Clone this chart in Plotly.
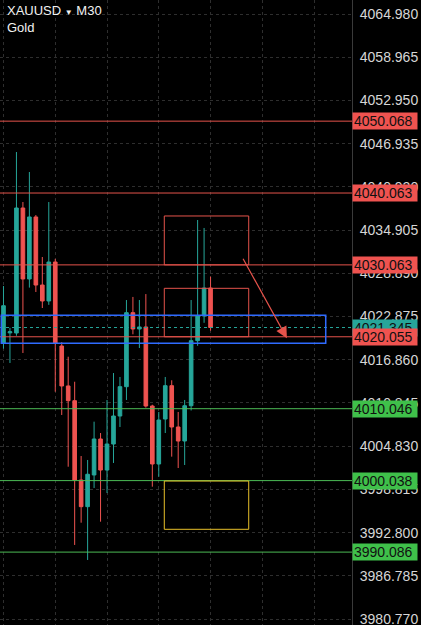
import plotly.graph_objects as go

# ---- data ----
candle_idx = list(range(33))
open_ = [4019.19, 4020.60, 4020.58, 4037.98, 4028.10, 4036.73, 4027.26, 4025.04, 4030.46, 4018.77,
         4013.21, 4011.16, 4000.12, 3996.41, 4000.82, 4005.83, 4001.51, 4005.13, 4009.03, 4013.11,
         4023.41, 4021.14, 4021.42, 4010.42, 4002.35, 4008.61, 4013.25, 4007.50, 4005.55, 4010.46,
         4019.51, 4022.95, 4026.84]
high = [4027.12, 4021.30, 4045.77, 4038.81, 4042.99, 4037.00, 4031.16, 4038.81, 4030.90, 4019.30,
        4017.28, 4013.80, 4003.46, 4002.91, 4008.24, 4006.66, 4011.26, 4015.01, 4014.46, 4025.17,
        4025.60, 4025.17, 4026.00, 4010.60, 4009.59, 4014.46, 4014.00, 4009.59, 4011.26, 4025.17,
        4036.31, 4035.20, 4028.42]
low = [4018.40, 4016.41, 4020.20, 4017.80, 4026.90, 4026.29, 4024.06, 4024.50, 4012.41, 4009.17,
       4001.97, 3991.08, 3994.18, 3988.99, 3999.01, 3994.32, 3998.31, 4002.49, 4007.50, 4011.26,
       4020.40, 4018.49, 4010.20, 3999.19, 4000.58, 4006.66, 4003.37, 4001.79, 4002.21, 4009.80,
       4018.80, 4022.00, 4020.90]
close = [4024.38, 4020.75, 4037.98, 4028.10, 4036.73, 4027.26, 4025.04, 4030.46, 4019.19, 4013.21,
         4011.16, 4000.12, 3996.41, 4000.92, 4005.83, 4001.51, 4005.13, 4009.03, 4013.11, 4023.41,
         4021.14, 4021.42, 4010.42, 4002.35, 4008.47, 4013.25, 4007.50, 4005.55, 4010.46, 4019.51,
         4022.95, 4026.84, 4021.345]

tick_labels = ["4064.980", "4058.965", "4052.950", "4046.935", "4040.920", "4034.905", "4028.890",
               "4022.875", "4016.860", "4010.845", "4004.830", "3998.815", "3992.800", "3986.785",
               "3980.770"]
resistance_levels = [4050.068, 4040.063, 4030.063, 4020.055]
support_levels = [4010.046, 4000.038, 3990.086]
current_price = 4021.345

# zones: (x0, x1, y0, y1) in candle index / price
red_zones = [(24.85, 37.9, 4030.063, 4036.87), (24.85, 37.9, 4020.055, 4026.80)]
blue_zone = (-0.34, 49.8, 4019.15, 4023.04)
yellow_zone = (24.85, 37.9, 3993.26, 3999.98)
arrow_start = (36.9, 4031.12)
arrow_end = (43.8, 4019.85)

# ---- styles ----
TEAL = "#26a69a"
RED = "#ef5350"
LINE_RED = "#e5534b"
GREEN = "#4cbb55"
TAG_GREEN = "#3fc04a"
BLUE = "#2f6bff"
YELLOW = "#e8c02a"
GRID = "#2e2e2e"
FONT = "Liberation Sans, Arial, sans-serif"

fig = go.Figure()
fig.add_trace(go.Candlestick(
    x=candle_idx, open=open_, high=high, low=low, close=close,
    increasing=dict(line=dict(color=TEAL, width=1), fillcolor=TEAL),
    decreasing=dict(line=dict(color=RED, width=1), fillcolor=RED),
    whiskerwidth=0, showlegend=False, hoverinfo="skip",
))

shapes = []
for lv in resistance_levels:
    shapes.append(dict(type="line", xref="paper", x0=0, x1=1, yref="y", y0=lv, y1=lv,
                       line=dict(color=LINE_RED, width=1)))
for lv in support_levels:
    shapes.append(dict(type="line", xref="paper", x0=0, x1=1, yref="y", y0=lv, y1=lv,
                       line=dict(color=GREEN, width=1)))
shapes.append(dict(type="line", xref="paper", x0=0, x1=1, yref="y", y0=current_price, y1=current_price,
                   line=dict(color=TEAL, width=1, dash="dot")))
for (x0, x1, y0, y1) in red_zones:
    shapes.append(dict(type="rect", xref="x", yref="y", x0=x0, x1=x1, y0=y0, y1=y1,
                       line=dict(color=LINE_RED, width=1), fillcolor="rgba(0,0,0,0)"))
x0, x1, y0, y1 = blue_zone
shapes.append(dict(type="rect", xref="x", yref="y", x0=x0, x1=x1, y0=y0, y1=y1,
                   line=dict(color=BLUE, width=1.5), fillcolor="rgba(0,0,0,0)"))
x0, x1, y0, y1 = yellow_zone
shapes.append(dict(type="rect", xref="x", yref="y", x0=x0, x1=x1, y0=y0, y1=y1,
                   line=dict(color=YELLOW, width=1), fillcolor="rgba(0,0,0,0)"))

annotations = []
def tag(value, bg):
    annotations.append(dict(
        xref="paper", x=1, xanchor="left", yref="y", y=value, yanchor="middle",
        text=f"{value:.3f}", showarrow=False, bgcolor=bg, borderpad=1, width=62, height=14,
        align="left", font=dict(family=FONT, size=14, color="#111111"),
    ))

tag(current_price, TEAL)
for lv in resistance_levels:
    tag(lv, RED)
for lv in support_levels:
    tag(lv, TAG_GREEN)

annotations.append(dict(
    x=arrow_end[0], y=arrow_end[1], xref="x", yref="y",
    ax=arrow_start[0], ay=arrow_start[1], axref="x", ayref="y",
    showarrow=True, arrowhead=2, arrowsize=1.9, arrowwidth=1.2, arrowcolor=LINE_RED, text="",
))
annotations.append(dict(
    xref="paper", yref="paper", x=0.014, y=1 - 11 / 625, xanchor="left", yanchor="middle",
    text="XAUUSD <span style='font-size:8px'>▼</span> M30", showarrow=False,
    font=dict(family=FONT, size=13, color="#f2f2f2"),
))
annotations.append(dict(
    xref="paper", yref="paper", x=0.014, y=1 - 27 / 625, xanchor="left", yanchor="middle",
    text="Gold", showarrow=False, font=dict(family=FONT, size=13, color="#f2f2f2"),
))

tick_vals = [float(t) for t in tick_labels]

fig.update_layout(
    width=421, height=625,
    margin=dict(l=0, r=69, t=0, b=0, autoexpand=False),
    paper_bgcolor="#000000", plot_bgcolor="#000000",
    shapes=shapes, annotations=annotations,
    boxgap=0.2,
    xaxis=dict(range=[-0.54, 53.86], rangeslider=dict(visible=False), showticklabels=False,
               tickvals=[0, 8, 16, 24, 32, 40, 48], showgrid=True, gridcolor=GRID, griddash="dot",
               gridwidth=1, zeroline=False, showline=False, fixedrange=True),
    yaxis=dict(range=[3979.94, 4066.93], side="right", tickvals=tick_vals, ticktext=tick_labels,
               showgrid=True, gridcolor=GRID, griddash="dot", gridwidth=1, zeroline=False,
               showline=True, linecolor="#3a3a3a", linewidth=1, ticks="", ticklabelstandoff=4,
               ticklabeloverflow="allow",
               tickfont=dict(family=FONT, size=14, color="#d6d6d6"), fixedrange=True),
    showlegend=False,
)

fig.write_html(
    "out.html",
    config={"displayModeBar": False, "staticPlot": True},
    post_script="document.body.style.margin='0';document.body.style.background='#000';",
)
